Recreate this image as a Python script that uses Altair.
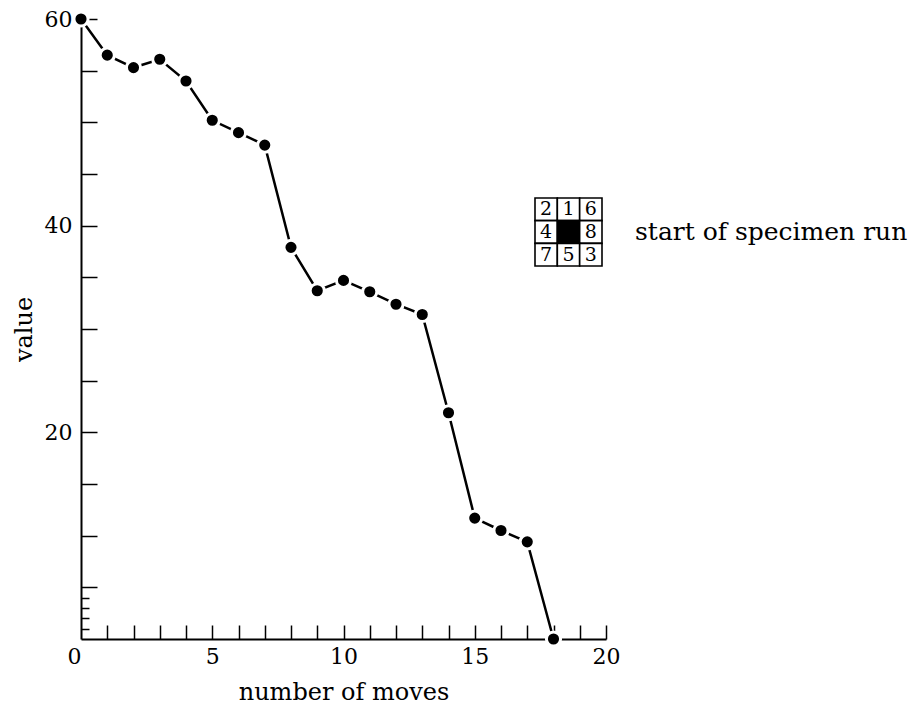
import altair as alt
import pandas as pd

# ---- data ----
moves = list(range(19))
values = [60, 56.5, 55.3, 56.1, 54.0, 50.2, 49.0, 47.8, 37.9, 33.7, 34.7,
          33.6, 32.4, 31.4, 21.9, 11.7, 10.5, 9.4, 0]

x_label_values = [0, 5, 10, 15, 20]
y_label_values = [20, 40, 60]
x_tick_values = list(range(1, 21))
y_major_ticks = list(range(5, 65, 5))
y_minor_ticks = [1, 2, 3, 4]

tiles = ["2", "1", "6", "4", "", "8", "7", "5", "3"]
tile_cols = [0, 1, 2, 0, 1, 2, 0, 1, 2]
tile_rows = [0, 0, 0, 1, 1, 1, 2, 2, 2]
caption = "start of specimen run"
caption_col = [2]
caption_row = [1]

# ---- layout / style ----
W, H = 525, 620
FONT = "DejaVu Serif"
LFS = 22   # tick labels
TFS = 24   # axis titles
CFS = 25   # caption

df = pd.DataFrame({"moves": moves, "value": values})
xs = alt.Scale(domain=[0, 20], nice=False, zero=False)
ys = alt.Scale(domain=[0, 60], nice=False, zero=False)

line = alt.Chart(df).mark_line(color="black", strokeWidth=2.5).encode(
    x=alt.X("moves:Q", scale=xs, axis=alt.Axis(
        values=x_label_values, ticks=False, grid=False,
        domainColor="black", domainWidth=2,
        labelFont=FONT, labelFontSize=LFS, labelColor="black", labelPadding=7,
        labelFlush=False, labelOverlap=False,
        labelAlign={"condition": {"test": "datum.value === 0", "value": "right"}, "value": "center"},
        title="number of moves", titleFont=FONT, titleFontSize=TFS,
        titleFontWeight="normal", titleColor="black", titlePadding=13)),
    y=alt.Y("value:Q", scale=ys, axis=alt.Axis(
        values=y_label_values, ticks=False, grid=False,
        domainColor="black", domainWidth=2,
        labelFont=FONT, labelFontSize=LFS, labelColor="black", labelPadding=9,
        labelFlush=False, labelOverlap=False,
        title="value", titleFont=FONT, titleFontSize=TFS,
        titleFontWeight="normal", titleColor="black", titlePadding=8)),
)

pts = alt.Chart(df).mark_circle(size=200, color="black", opacity=1,
                                stroke="white", strokeWidth=3).encode(
    x=alt.X("moves:Q", scale=xs, axis=alt.Axis(
        orient="top", offset=-H, values=x_tick_values, labels=False,
        domain=False, tickSize=14, tickColor="black", tickWidth=1.5,
        grid=False, title=None)),
    y=alt.Y("value:Q", scale=ys, axis=alt.Axis(
        orient="right", offset=-W, values=y_major_ticks, labels=False,
        domain=False, tickSize=16, tickColor="black", tickWidth=1.5,
        grid=False, title=None)),
)

minor = alt.Chart(df).mark_point(opacity=0).encode(
    x=alt.X("moves:Q", scale=xs, axis=None),
    y=alt.Y("value:Q", scale=ys, axis=alt.Axis(
        orient="right", offset=-W, values=y_minor_ticks, labels=False,
        domain=False, tickSize=8, tickColor="black", tickWidth=1.5,
        grid=False, title=None)),
)

pdf = pd.DataFrame({"col": tile_cols, "row": tile_rows, "tile": tiles})
gx = alt.Scale(domain=[0, 3], range=[454, 521], nice=False, zero=False)
gy = alt.Scale(domain=[0, 3], range=[179, 247], nice=False, zero=False)

cells = alt.Chart(pdf).transform_calculate(
    col2="datum.col + 1", row2="datum.row + 1"
).mark_rect(stroke="black", strokeWidth=1.6).encode(
    x=alt.X("col:Q", scale=gx, axis=None), x2="col2:Q",
    y=alt.Y("row:Q", scale=gy, axis=None), y2="row2:Q",
    fill=alt.condition("datum.tile === ''", alt.value("black"), alt.value("white")),
)

nums = alt.Chart(pdf).transform_calculate(
    xc="datum.col + 0.5", yc="datum.row + 0.5"
).mark_text(font=FONT, fontSize=19, color="black", baseline="middle").encode(
    x=alt.X("xc:Q", scale=gx, axis=None),
    y=alt.Y("yc:Q", scale=gy, axis=None),
    text="tile:N",
)

cap = alt.Chart(pd.DataFrame({"col": caption_col, "row": caption_row, "text": [caption]})).transform_calculate(
    xr="datum.col + 1", yc="datum.row + 0.5"
).mark_text(font=FONT, fontSize=CFS, color="black", align="left", baseline="middle", dx=33).encode(
    x=alt.X("xr:Q", scale=gx, axis=None),
    y=alt.Y("yc:Q", scale=gy, axis=None),
    text="text:N",
)

chart = alt.layer(minor, line, pts, cells, nums, cap).resolve_scale(
    x="independent", y="independent"
).properties(
    width=W, height=H, autosize="none",
    padding={"left": 73, "top": 11, "right": 304, "bottom": 66},
    background="white",
).configure_view(stroke=None)

chart.save("out.html", embed_options={"renderer": "svg", "actions": False})
